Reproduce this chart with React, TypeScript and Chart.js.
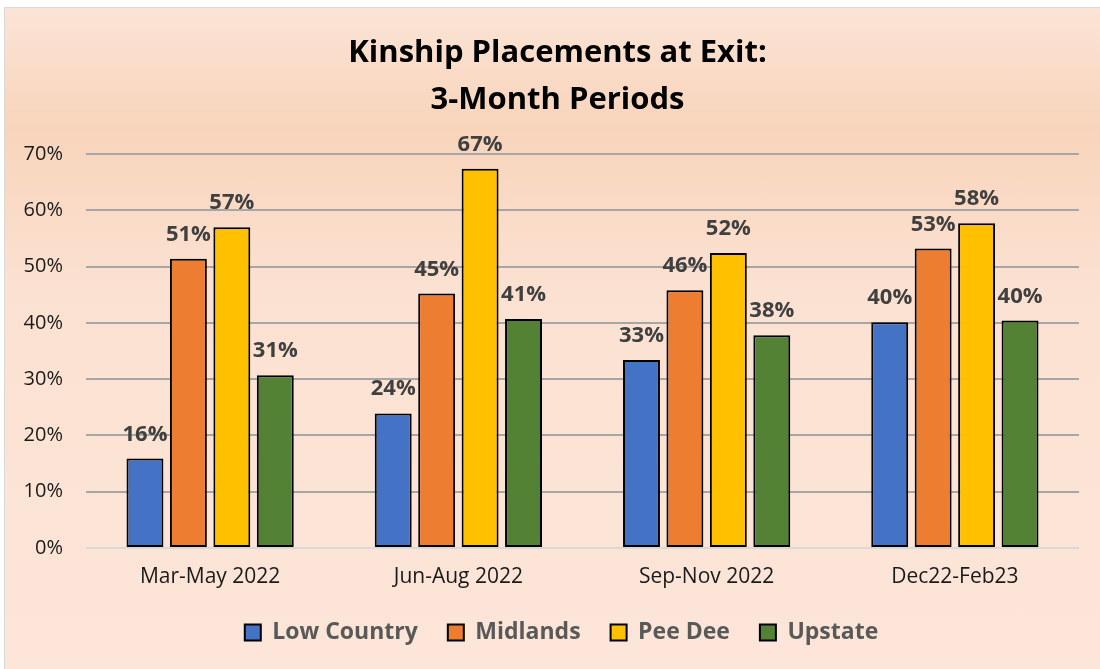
import React, { useEffect, useRef } from "react";
import { Chart, registerables } from "chart.js";

Chart.register(...registerables);

const categories = ["Mar-May 2022", "Jun-Aug 2022", "Sep-Nov 2022", "Dec22-Feb23"];
const lowCountry = [15.9, 23.9, 33.4, 40.1];
const midlands = [51.4, 45.2, 45.8, 53.2];
const peeDee = [57.0, 67.4, 52.4, 57.7];
const upstate = [30.7, 40.7, 37.8, 40.4];
const yTicks = [0, 10, 20, 30, 40, 50, 60, 70];
const titleLines = ["Kinship Placements at Exit:", "3-Month Periods"];

const FONT = "'Open Sans', Lato, sans-serif";

const dataLabels = {
  id: "dataLabels",
  afterDatasetsDraw(chart: any) {
    const ctx = chart.ctx;
    ctx.save();
    ctx.font = `bold 22px ${FONT}`;
    ctx.fillStyle = "#404040";
    ctx.textAlign = "center";
    ctx.textBaseline = "alphabetic";
    chart.data.datasets.forEach((ds: any, di: number) => {
      const meta = chart.getDatasetMeta(di);
      meta.data.forEach((el: any, i: number) => {
        const v = ds.data[i];
        ctx.fillText(Math.round(v) + "%", el.x, el.y - 18);
      });
    });
    ctx.restore();
  },
};

// Centre the title and legend the way the original frame does
const centreShift = {
  id: "centreShift",
  afterLayout(chart: any) {
    if (chart.legend) {
      chart.legend.left += 20;
      chart.legend.right += 20;
    }
    if (chart.titleBlock) {
      chart.titleBlock.left += 16;
      chart.titleBlock.right += 16;
    }
  },
};

export default function App() {
  const ref = useRef<HTMLCanvasElement>(null);
  useEffect(() => {
    if (!ref.current) return;
    const mk = (label: string, data: number[], color: string) => ({
      label,
      data,
      backgroundColor: color,
      borderColor: "#000000",
      borderWidth: 2,
      borderSkipped: false,
      categoryPercentage: 0.7,
      barPercentage: 0.85,
    });
    const chart = new Chart(ref.current, {
      type: "bar",
      data: {
        labels: categories,
        datasets: [
          mk("Low Country", lowCountry, "#4472c4"),
          mk("Midlands", midlands, "#ed7d31"),
          mk("Pee Dee", peeDee, "#ffc000"),
          mk("Upstate", upstate, "#548235"),
        ],
      },
      options: {
        responsive: false,
        animation: false,
        layout: { padding: { left: 4, right: 21, top: 0, bottom: 15 } },
        plugins: {
          tooltip: { enabled: false },
          title: {
            display: true,
            text: titleLines,
            color: "#000000",
            font: { family: FONT, size: 31, weight: "bold", lineHeight: 47 / 31 },
            padding: { top: 29.5, bottom: 30.5 },
          },
          legend: {
            display: true,
            position: "bottom",
            labels: {
              color: "#595959",
              font: { family: FONT, size: 23, weight: "bold" },
              boxWidth: 16,
              boxHeight: 16,
              padding: 30,
            },
          },
        },
        scales: {
          x: {
            grid: { display: false, drawTicks: false },
            border: { display: false },
            ticks: { color: "#1a1a1a", font: { family: FONT, size: 21 }, padding: 16 },
            afterFit: (s: any) => {
              s.height = 43;
            },
          },
          y: {
            min: 0,
            max: 70,
            afterBuildTicks: (s: any) => {
              s.ticks = yTicks.map((v) => ({ value: v }));
            },
            grid: {
              drawTicks: false,
              lineWidth: 2,
              color: (c: any) => (c.tick && c.tick.value === 0 ? "#d9d9d9" : "#a6a6a6"),
            },
            border: { display: false },
            ticks: {
              color: "#1a1a1a",
              font: { family: FONT, size: 20 },
              padding: 23,
              callback: (v: any) => v + "%",
            },
            afterFit: (s: any) => {
              s.width = 82;
            },
          },
        },
      },
      plugins: [dataLabels, centreShift],
    });
    return () => chart.destroy();
  }, []);

  return (
    <div style={{ position: "fixed", left: 0, top: 0, width: 1100, height: 669, overflow: "hidden" }}>
      <div
        style={{
          position: "absolute",
          left: 4,
          top: 7,
          width: 1096,
          height: 662,
          borderLeft: "1px solid #d9d9d9",
          borderTop: "1px solid #d9d9d9",
          background:
            "linear-gradient(to bottom, #fbe4d6 0%, #f8d4bb 18%, #fbe1d1 42%, #fce6d9 100%)",
        }}
      />
      <canvas ref={ref} width={1100} height={669} style={{ position: "absolute", left: 0, top: 0 }} />
    </div>
  );
}
